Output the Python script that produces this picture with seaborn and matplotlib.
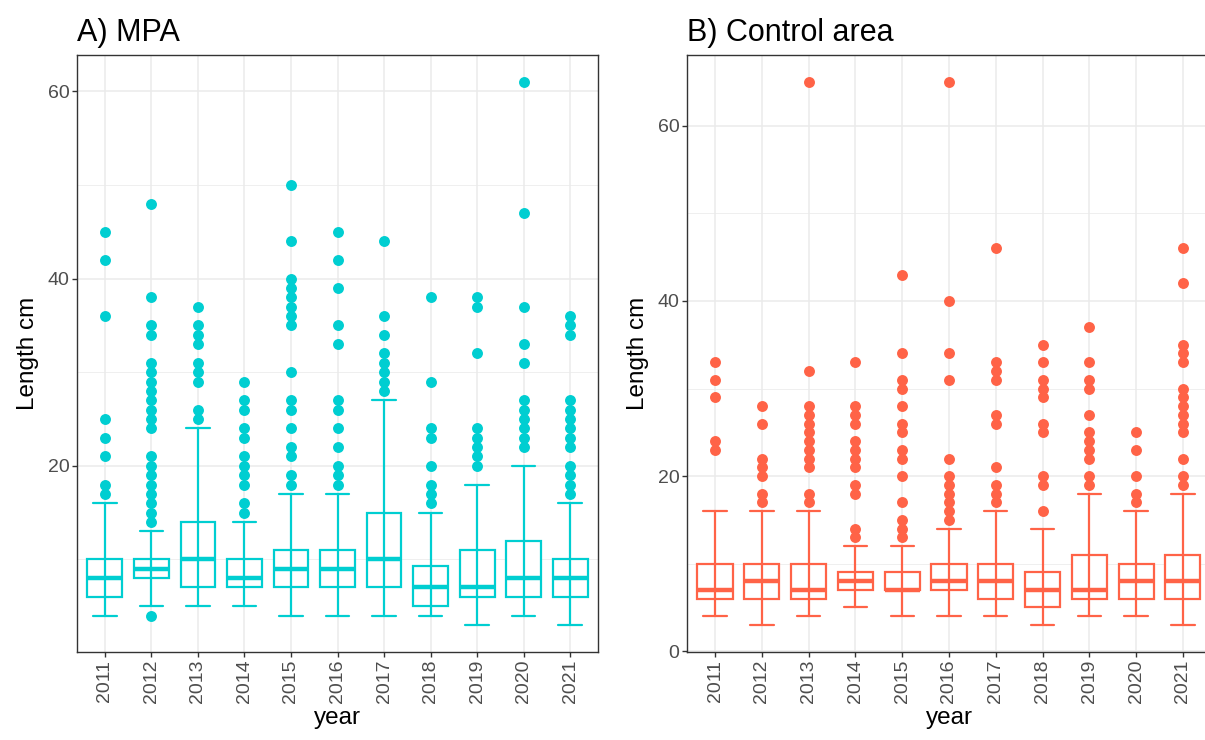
import numpy as np
import pandas as pd
import matplotlib
matplotlib.use("Agg")
import matplotlib.pyplot as plt
import seaborn as sns
from matplotlib.ticker import MultipleLocator, FixedLocator

# ---- data: yearly length summaries (cm) ----
years = [2011, 2012, 2013, 2014, 2015, 2016, 2017, 2018, 2019, 2020, 2021]

# Marine protected area
mpa_low = [4, 5, 5, 5, 4, 4, 4, 4, 3, 4, 3]
mpa_q1 = [6, 8, 7, 7, 7, 7, 7, 5, 6, 6, 6]
mpa_med = [8, 9, 10, 8, 9, 9, 10, 7, 7, 8, 8]
mpa_q3 = [10, 10, 14, 10, 11, 11, 15, 9.25, 11, 12, 10]
mpa_high = [16, 13, 24, 14, 17, 17, 27, 15, 18, 20, 16]
mpa_out = [
    [17, 18, 21, 23, 25, 36, 42, 45],
    [4, 14, 15, 16, 17, 18, 19, 20, 21, 24, 25, 26, 27, 28, 29, 30, 31, 34, 35, 38, 48],
    [25, 26, 29, 30, 31, 33, 34, 35, 37],
    [15, 16, 18, 19, 20, 21, 23, 24, 26, 27, 29],
    [18, 19, 21, 22, 24, 26, 27, 30, 35, 36, 37, 38, 39, 40, 44, 50],
    [18, 19, 20, 22, 24, 26, 27, 33, 35, 39, 42, 45],
    [28, 29, 30, 31, 32, 34, 36, 44],
    [16, 17, 18, 20, 23, 24, 29, 38],
    [20, 21, 22, 23, 24, 32, 37, 38],
    [22, 23, 24, 25, 26, 27, 31, 33, 37, 47, 61],
    [17, 18, 19, 20, 22, 23, 24, 25, 26, 27, 34, 35, 36],
]

# Control area
ctl_low = [4, 3, 4, 5, 4, 4, 4, 3, 4, 4, 3]
ctl_q1 = [6, 6, 6, 7, 7, 7, 6, 5, 6, 6, 6]
ctl_med = [7, 8, 7, 8, 7, 8, 8, 7, 7, 8, 8]
ctl_q3 = [10, 10, 10, 9, 9, 10, 10, 9, 11, 10, 11]
ctl_high = [16, 16, 16, 12, 12, 14, 16, 14, 18, 16, 18]
ctl_out = [
    [23, 24, 29, 31, 33],
    [17, 18, 20, 21, 22, 26, 28],
    [17, 18, 21, 22, 23, 24, 25, 26, 27, 28, 32, 65],
    [13, 14, 18, 19, 21, 22, 23, 24, 26, 27, 28, 33],
    [13, 14, 15, 17, 20, 22, 23, 25, 26, 28, 30, 31, 34, 43],
    [15, 16, 17, 18, 19, 20, 22, 31, 34, 40, 65],
    [17, 18, 19, 21, 26, 27, 31, 32, 33, 46],
    [16, 19, 20, 25, 26, 29, 30, 31, 33, 35],
    [19, 20, 22, 23, 24, 25, 27, 30, 31, 33, 37],
    [17, 18, 20, 23, 25],
    [19, 20, 22, 25, 26, 27, 28, 29, 30, 33, 34, 35, 42, 46],
]

MPA_COLOR = "#00CED1"
CTL_COLOR = "#FF6347"

sns.set_theme(style="white")
plt.rcParams["font.family"] = ["Liberation Sans", "DejaVu Sans"]

fig = plt.figure(figsize=(12.05, 7.40), dpi=100)
ax1 = fig.add_axes([0.0639, 0.1189, 0.4324, 0.8068])
ax2 = fig.add_axes([0.5701, 0.1189, 0.4349, 0.8068])


def draw_panel(ax, title, color, low, q1, med, q3, high, outliers, yticks):
    pos = np.arange(len(years))
    lw = 1.6

    stats = [
        dict(whislo=lo, q1=a, med=m, q3=b, whishi=hi, fliers=[])
        for lo, a, m, b, hi in zip(low, q1, med, q3, high)
    ]
    ax.bxp(
        stats, positions=pos, widths=0.75, patch_artist=True,
        showfliers=False, capwidths=0.5, manage_ticks=False,
        boxprops=dict(facecolor="white", edgecolor=color, linewidth=lw),
        medianprops=dict(color=color, linewidth=lw * 2, solid_capstyle="butt"),
        whiskerprops=dict(color=color, linewidth=lw),
        capprops=dict(color=color, linewidth=lw),
    )
    # error-bar stem runs through each box
    ax.vlines(pos, q1, q3, colors=color, linewidth=lw, zorder=2.5)

    # outlying fish
    df = pd.DataFrame({
        "pos": [p for p, vals in zip(pos, outliers) for _ in vals],
        "length": [v for vals in outliers for v in vals],
    })
    sns.scatterplot(data=df, x="pos", y="length", color=color, s=62,
                    linewidth=0, legend=False, ax=ax, zorder=3)

    # limits with 5% padding on the data range
    lo_all = min(min(low), min(min(v) for v in outliers))
    hi_all = max(max(high), max(max(v) for v in outliers))
    pad = 0.05 * (hi_all - lo_all)
    ax.set_ylim(lo_all - pad, hi_all + pad)
    ax.set_xlim(-0.6, len(years) - 0.4)

    ax.xaxis.set_major_locator(FixedLocator(pos))
    ax.set_xticklabels([str(y) for y in years], rotation=90)
    ax.yaxis.set_major_locator(FixedLocator(yticks))
    ax.yaxis.set_minor_locator(MultipleLocator(10))

    ax.set_axisbelow(True)
    ax.grid(which="major", axis="both", color="#EBEBEB", linewidth=1.1)
    ax.grid(which="minor", axis="y", color="#EBEBEB", linewidth=0.55)
    for sp in ax.spines.values():
        sp.set_color("#333333")
        sp.set_linewidth(1.0)
    ax.tick_params(which="major", length=3.5, width=1.0, color="#333333",
                   labelcolor="#4D4D4D", labelsize=14, pad=2,
                   bottom=True, left=True)
    ax.tick_params(which="minor", length=0)

    ax.set_xlabel("year", fontsize=17.5, color="black", labelpad=3)
    ax.set_ylabel("Length cm", fontsize=17.5, color="black", labelpad=6)
    ax.set_title(title, loc="left", fontsize=22, color="black", pad=10)


draw_panel(ax1, "A) MPA", MPA_COLOR, mpa_low, mpa_q1, mpa_med, mpa_q3,
           mpa_high, mpa_out, [20, 40, 60])
draw_panel(ax2, "B) Control area", CTL_COLOR, ctl_low, ctl_q1, ctl_med, ctl_q3,
           ctl_high, ctl_out, [0, 20, 40, 60])

fig.savefig("out.png", dpi=100)
